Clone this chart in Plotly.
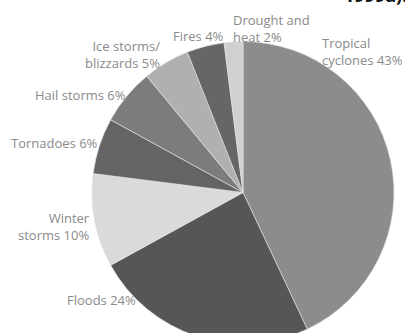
import plotly.graph_objects as go

# Visible window is 405x333; the source chart's pie runs past the bottom
# edge, so the figure is drawn a little taller and the page is cropped.
W, H = 405, 344

categories = ["Tropical cyclones", "Floods", "Winter storms", "Tornadoes",
              "Hail storms", "Ice storms/blizzards", "Fires", "Drought and heat"]
shares = [43, 24, 10, 6, 6, 5, 4, 2]
slice_colors = ["#8c8c8c", "#565656", "#dadada", "#646464",
                "#7c7c7c", "#b0b0b0", "#666666", "#d0d0d0"]
label_texts = ["Tropical<br>cyclones 43%", "Floods 24%", "Winter<br>storms 10%",
               "Tornadoes 6%", "Hail storms 6%", "Ice storms/<br>blizzards 5%",
               "Fires 4%", "Drought and<br>heat 2%"]
# label placement (pixel anchor x, y, anchor side)
label_pos = [(320, 51, "left"), (138, 300, "right"), (92, 227, "right"),
             (100, 143, "right"), (128, 95, "right"), (162, 54, "right"),
             (171, 36, "left"), (231, 28, "left")]

fig = go.Figure()
fig.add_trace(go.Pie(
    labels=categories, values=shares, sort=False, direction="clockwise",
    rotation=0, textinfo="none",
    marker=dict(colors=slice_colors, line=dict(color="#e6e6e6", width=0.6)),
    domain=dict(x=[92 / W, 394 / W], y=[0, 1 - 41 / H]),
    showlegend=False,
))

for txt, (px, py, side) in zip(label_texts, label_pos):
    fig.add_annotation(
        x=px / W, y=1 - py / H, xref="paper", yref="paper",
        text=txt, showarrow=False, xanchor=side, yanchor="middle", align=side,
        font=dict(family="Open Sans", size=13, color="#8a8a8a"),
    )

fig.add_annotation(
    x=1.01, y=1 - 9 / H, xref="paper", yref="paper", text="<b>1999a).</b>",
    showarrow=False, xanchor="right", yanchor="bottom",
    font=dict(family="Open Sans", size=18, color="#111111"),
)

fig.update_layout(
    width=W, height=H, margin=dict(l=0, r=0, t=0, b=0),
    paper_bgcolor="white", plot_bgcolor="white",
)

fig.write_html(
    "out.html",
    post_script="document.documentElement.style.overflow='hidden';"
                "document.body.style.overflow='hidden';",
)
